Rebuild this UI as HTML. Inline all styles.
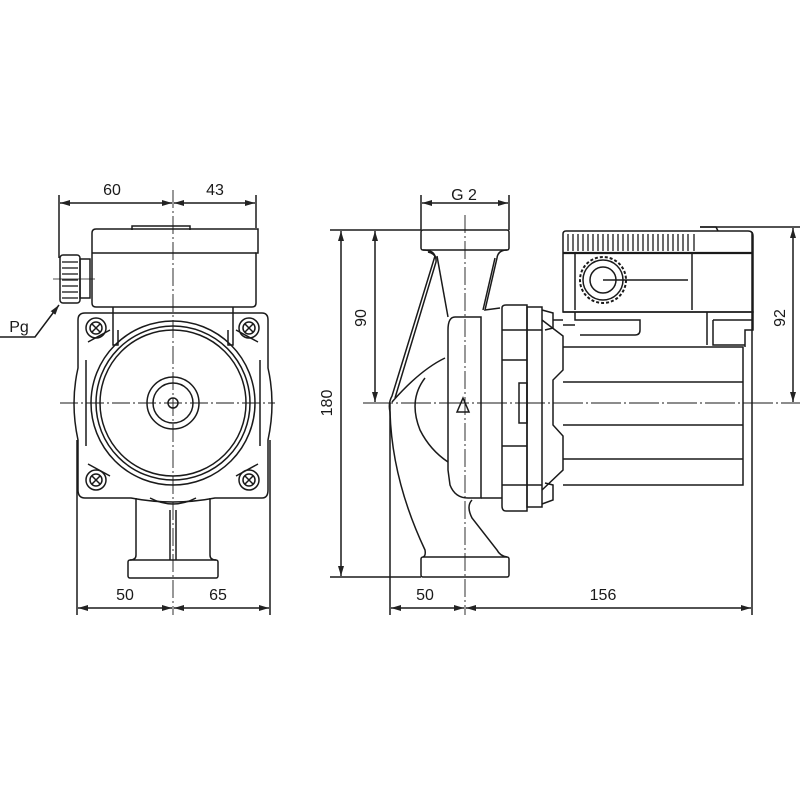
<!DOCTYPE html>
<html><head><style>html,body{margin:0;padding:0;background:#fff}svg{display:block}</style></head>
<body>
<svg width="800" height="800" viewBox="0 0 800 800" xmlns="http://www.w3.org/2000/svg" font-family="'Liberation Sans', 'DejaVu Sans', sans-serif">
<defs>
<marker id="a" viewBox="0 0 10 6" refX="10" refY="3" markerWidth="10" markerHeight="6" orient="auto-start-reverse" markerUnits="userSpaceOnUse"><path d="M0,0 L10,3 L0,6 z" fill="#222"/></marker>
</defs>
<g stroke="#1a1a1a" stroke-width="1.5" fill="none">
<!-- ===== LEFT VIEW ===== -->
<line x1="59" y1="195" x2="59" y2="258"/>
<line x1="256" y1="195" x2="256" y2="228"/>
<line x1="60" y1="203" x2="172" y2="203" marker-start="url(#a)" marker-end="url(#a)"/>
<line x1="174" y1="203" x2="255" y2="203" marker-start="url(#a)" marker-end="url(#a)"/>
<path d="M132,230 L132,226 L190,226 L190,230"/>
<path d="M92,233 Q92,229 96,229 L258,229 L258,253 L256,253 L256,303 Q256,307 252,307 L96,307 Q92,307 92,303 Z"/>
<line x1="92" y1="253" x2="256" y2="253"/>
<rect x="80" y="259" width="10" height="39"/>
<rect x="60" y="255" width="20" height="48" rx="3"/>
<g stroke-width="1.3">
<line x1="62" y1="262" x2="78" y2="262"/><line x1="62" y1="268" x2="78" y2="268"/>
<line x1="62" y1="274" x2="78" y2="274"/><line x1="62" y1="280" x2="78" y2="280"/>
<line x1="62" y1="286" x2="78" y2="286"/><line x1="62" y1="292" x2="78" y2="292"/>
<line x1="62" y1="298" x2="78" y2="298"/>
</g>
<line x1="53" y1="279" x2="95" y2="279" stroke-width="0.8"/>
<polyline points="0,337 35,337 59,305" marker-end="url(#a)"/>
<path d="M113,307 L113,330 M233,307 L233,330"/>
<path d="M113,330 L113,345 L118,345 L118,330 M233,330 L233,345 L228,345 L228,330"/>
<path d="M85,313 L110,313 L236,313 L262,313 Q268,313 268,320 L268,368 Q276,403 268,440 L268,490 Q268,498 262,498 L215,498 Q173,506 131,498 L85,498 Q78,498 78,490 L78,440 Q70,403 78,368 L78,320 Q78,313 85,313 Z"/>
<path d="M88,342 L110,330 M258,342 L236,330 M88,464 L110,476 M258,464 L236,476"/>
<path d="M86,360 L86,446 M260,360 L260,446"/>
<circle cx="173" cy="403" r="82"/>
<circle cx="173" cy="403" r="77"/>
<circle cx="173" cy="403" r="73"/>
<circle cx="173" cy="403" r="26"/>
<circle cx="173" cy="403" r="20"/>
<circle cx="173" cy="403" r="5"/>
<g>
<circle cx="96" cy="328" r="10"/><circle cx="96" cy="328" r="6"/>
<path d="M92,324 L100,332 M100,324 L92,332"/>
<circle cx="249" cy="328" r="10"/><circle cx="249" cy="328" r="6"/>
<path d="M245,324 L253,332 M253,324 L245,332"/>
<circle cx="96" cy="480" r="10"/><circle cx="96" cy="480" r="6"/>
<path d="M92,476 L100,484 M100,476 L92,484"/>
<circle cx="249" cy="480" r="10"/><circle cx="249" cy="480" r="6"/>
<path d="M245,476 L253,484 M253,476 L245,484"/>
</g>
<path d="M150,498 Q173,510 196,498"/>
<path d="M136,498 L136,555 Q136,560 130,560 M210,498 L210,555 Q210,560 216,560"/>
<rect x="128" y="560" width="90" height="18" rx="2"/>
<line x1="170" y1="510" x2="170" y2="560"/><line x1="176" y1="510" x2="176" y2="560"/>
<line x1="173" y1="190" x2="173" y2="615" stroke-width="0.9" stroke-dasharray="18,3,2,3"/>
<line x1="60" y1="403" x2="275" y2="403" stroke-width="0.9" stroke-dasharray="18,3,2,3"/>
<line x1="77" y1="440" x2="77" y2="615"/>
<line x1="270" y1="440" x2="270" y2="615"/>
<line x1="78" y1="608" x2="172" y2="608" marker-start="url(#a)" marker-end="url(#a)"/>
<line x1="174" y1="608" x2="269" y2="608" marker-start="url(#a)" marker-end="url(#a)"/>

<!-- ===== RIGHT VIEW ===== -->
<line x1="330" y1="230" x2="421" y2="230"/>
<line x1="330" y1="577" x2="421" y2="577"/>
<line x1="421" y1="195" x2="421" y2="230"/>
<line x1="509" y1="195" x2="509" y2="230"/>
<line x1="422" y1="203" x2="508" y2="203" marker-start="url(#a)" marker-end="url(#a)"/>
<line x1="341" y1="231" x2="341" y2="576" marker-start="url(#a)" marker-end="url(#a)"/>
<line x1="375" y1="231" x2="375" y2="402" marker-start="url(#a)" marker-end="url(#a)"/>
<line x1="700" y1="227" x2="800" y2="227"/>
<line x1="793" y1="228" x2="793" y2="402" marker-start="url(#a)" marker-end="url(#a)"/>
<line x1="390" y1="403" x2="390" y2="615"/>
<line x1="752" y1="232" x2="752" y2="615"/>
<line x1="391" y1="608" x2="464" y2="608" marker-start="url(#a)" marker-end="url(#a)"/>
<line x1="466" y1="608" x2="751" y2="608" marker-start="url(#a)" marker-end="url(#a)"/>
<rect x="421" y="230" width="88" height="20" rx="2"/>
<rect x="421" y="557" width="88" height="20" rx="2"/>
<path d="M423,250 Q433,250 435,256 L392,396 Q388,403 390,412 Q392,480 425,550 Q426,556 423,557"/>
<path d="M428,252 Q437,254 436,262 L395,398"/>
<path d="M437,256 L448,317"/>
<path d="M507,250 Q498,250 497,258 L485,310 L500,308"/>
<path d="M495,258 L483,310"/>
<path d="M392,402 Q420,370 445,358"/>
<path d="M425,378 Q408,400 420,430 Q430,450 448,462"/>
<path d="M455,317 L481,317 L481,498 L468,498 Q455,498 450,485 L448,470 L448,330 Q448,317 455,317 Z"/>
<path d="M472,500 Q466,506 472,518 L497,550 Q500,556 507,557"/>
<path d="M481,498 L502,498"/>
<path d="M502,308 Q502,305 506,305 L527,305 L527,511 L506,511 Q502,511 502,506 Z"/>
<rect x="527" y="307" width="15" height="200"/>
<path d="M502,330 L542,330 M502,360 L527,360 M502,446 L527,446 M502,485 L542,485"/>
<path d="M542,310 L553,313 L553,328 L545,330 M542,504 L553,500 L553,485 L545,483"/>
<path d="M542,320 L563,336 L563,370 L553,380 L553,425 L563,436 L563,470 L542,490"/>
<rect x="519" y="383" width="8" height="40"/>
<path d="M457,412 L463,398 L469,412 Z"/>
<path d="M563,347 L743,347 L743,485 L563,485"/>
<line x1="563" y1="382" x2="743" y2="382"/>
<line x1="563" y1="425" x2="743" y2="425"/>
<line x1="563" y1="459" x2="743" y2="459"/>
<path d="M563,312 L753,312 L753,330 L745,330 L745,347"/>
<path d="M575,312 L575,320 L640,320 L640,330 Q640,335 635,335 L580,335 M563,325 L575,325"/>
<path d="M707,312 L707,345 M713,320 L713,345 L745,345 M713,320 L753,320"/>
<line x1="553" y1="320" x2="563" y2="320"/>
<path d="M700,227 L716,227 L718,231"/>
<path d="M566,231 L748,231 Q753,231 753,236 L753,312 L563,312 L563,234 Q563,231 566,231 Z"/>
<line x1="563" y1="253" x2="753" y2="253" stroke-width="2.2"/>
<line x1="575" y1="253" x2="575" y2="310"/>
<line x1="692" y1="253" x2="692" y2="310"/>
<line x1="603" y1="280" x2="688" y2="280"/>
<circle cx="603" cy="280" r="23" stroke-dasharray="3,2" stroke-width="2"/>
<circle cx="603" cy="280" r="20"/>
<circle cx="603" cy="280" r="13"/>
<g stroke-width="1.3">
<line x1="568" y1="234" x2="568" y2="251"/><line x1="573" y1="234" x2="573" y2="251"/>
<line x1="578" y1="234" x2="578" y2="251"/><line x1="583" y1="234" x2="583" y2="251"/>
<line x1="588" y1="234" x2="588" y2="251"/><line x1="593" y1="234" x2="593" y2="251"/>
<line x1="598" y1="234" x2="598" y2="251"/><line x1="603" y1="234" x2="603" y2="251"/>
<line x1="608" y1="234" x2="608" y2="251"/><line x1="613" y1="234" x2="613" y2="251"/>
<line x1="618" y1="234" x2="618" y2="251"/><line x1="623" y1="234" x2="623" y2="251"/>
<line x1="628" y1="234" x2="628" y2="251"/><line x1="633" y1="234" x2="633" y2="251"/>
<line x1="638" y1="234" x2="638" y2="251"/><line x1="643" y1="234" x2="643" y2="251"/>
<line x1="648" y1="234" x2="648" y2="251"/><line x1="653" y1="234" x2="653" y2="251"/>
<line x1="658" y1="234" x2="658" y2="251"/><line x1="663" y1="234" x2="663" y2="251"/>
<line x1="668" y1="234" x2="668" y2="251"/><line x1="673" y1="234" x2="673" y2="251"/>
<line x1="678" y1="234" x2="678" y2="251"/><line x1="683" y1="234" x2="683" y2="251"/>
<line x1="688" y1="234" x2="688" y2="251"/><line x1="694" y1="234" x2="694" y2="251"/>
</g>
<line x1="465" y1="215" x2="465" y2="615" stroke-width="0.9" stroke-dasharray="18,3,2,3"/>
<line x1="363" y1="403" x2="800" y2="403" stroke-width="0.9" stroke-dasharray="30,3,2,3"/>
</g>
<g fill="#1a1a1a" font-size="16" text-anchor="middle">
<text x="112" y="195">60</text>
<text x="215" y="195">43</text>
<text x="19" y="332">Pg</text>
<text x="125" y="600">50</text>
<text x="218" y="600">65</text>
<text x="464" y="200">G 2</text>
<text x="425" y="600">50</text>
<text x="603" y="600">156</text>
<text transform="translate(332,403) rotate(-90)">180</text>
<text transform="translate(366,318) rotate(-90)">90</text>
<text transform="translate(785,318) rotate(-90)">92</text>
</g>
</svg>
</body></html>
